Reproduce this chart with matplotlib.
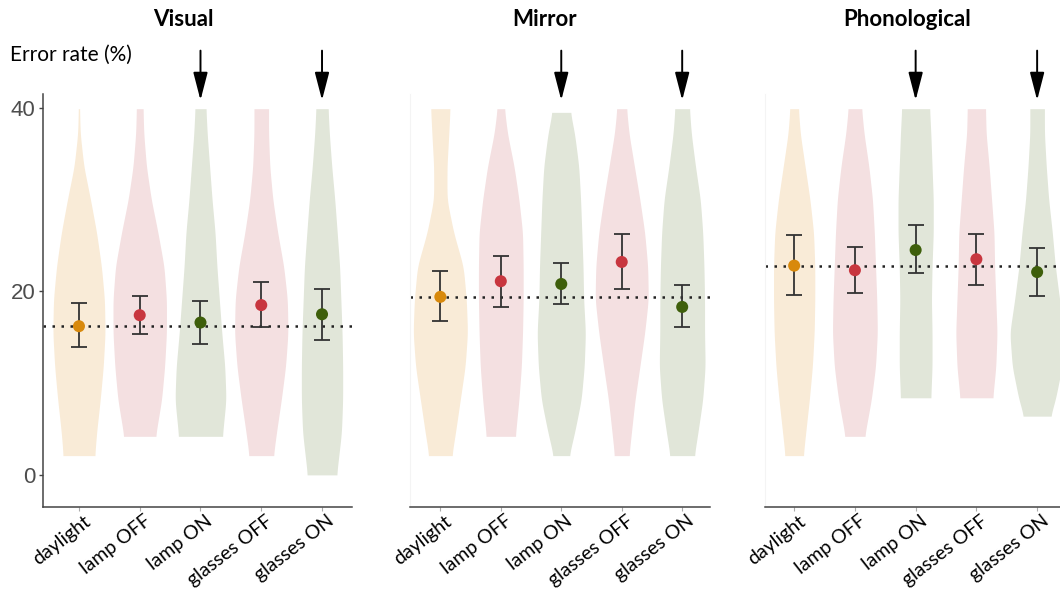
import numpy as np
import matplotlib
matplotlib.use("Agg")
import matplotlib.pyplot as plt
import matplotlib.transforms as mtransforms

# ---------------- data ----------------
conditions = ["daylight", "lamp OFF", "lamp ON", "glasses OFF", "glasses ON"]
tasks = ["Visual", "Mirror", "Phonological"]
yticks = [0, 20, 40]

# means and error-bar limits (error rate %)
visual_mean = [16.2, 17.4, 16.6, 18.5, 17.5]
visual_lo = [13.9, 15.4, 14.3, 16.1, 14.7]
visual_hi = [18.7, 19.5, 19.0, 21.0, 20.3]

mirror_mean = [19.4, 21.1, 20.8, 23.2, 18.3]
mirror_lo = [16.8, 18.3, 18.6, 20.2, 16.1]
mirror_hi = [22.2, 23.9, 23.1, 26.2, 20.7]

phono_mean = [22.8, 22.3, 24.5, 23.5, 22.1]
phono_lo = [19.6, 19.8, 22.0, 20.7, 19.5]
phono_hi = [26.1, 24.8, 27.2, 26.3, 24.7]

# violin outlines: half-widths (category units) at these levels, down to each violin's minimum
violin_levels = [39.9, 37.2, 33.6, 30.0, 26.4, 22.7, 19.1, 15.5, 11.8, 8.2, 4.6]

visual_vmin = [2.1, 4.2, 4.2, 2.1, 0.0]
visual_vmax = [39.9, 39.9, 39.9, 39.9, 39.9]
visual_width = [
    [0.01, 0.02, 0.08, 0.19, 0.29, 0.37, 0.42, 0.43, 0.40, 0.35, 0.29, 0.26],
    [0.055, 0.066, 0.11, 0.19, 0.30, 0.40, 0.44, 0.44, 0.41, 0.36, 0.26],
    [0.09, 0.11, 0.15, 0.19, 0.24, 0.27, 0.31, 0.35, 0.40, 0.42, 0.36],
    [0.12, 0.12, 0.14, 0.19, 0.27, 0.37, 0.43, 0.44, 0.40, 0.33, 0.25, 0.20],
    [0.10, 0.12, 0.16, 0.21, 0.25, 0.29, 0.31, 0.33, 0.34, 0.34, 0.32, 0.24],
]

mirror_vmin = [2.1, 4.2, 2.1, 2.1, 2.1]
mirror_vmax = [39.9, 39.9, 39.5, 39.9, 39.9]
mirror_width = [
    [0.16, 0.14, 0.11, 0.11, 0.22, 0.38, 0.43, 0.45, 0.41, 0.33, 0.25, 0.19],
    [0.06, 0.11, 0.22, 0.30, 0.36, 0.37, 0.37, 0.36, 0.34, 0.30, 0.24],
    [0.15, 0.22, 0.29, 0.32, 0.34, 0.36, 0.37, 0.40, 0.38, 0.33, 0.22, 0.13],
    [0.08, 0.12, 0.21, 0.30, 0.38, 0.43, 0.44, 0.38, 0.30, 0.22, 0.16, 0.12],
    [0.12, 0.15, 0.22, 0.30, 0.34, 0.36, 0.37, 0.37, 0.38, 0.34, 0.26, 0.20],
]

phono_vmin = [2.1, 4.2, 8.4, 8.4, 6.4]
phono_vmax = [39.9, 39.9, 39.9, 39.9, 39.9]
phono_width = [
    [0.07, 0.10, 0.18, 0.26, 0.32, 0.34, 0.34, 0.33, 0.30, 0.25, 0.19, 0.15],
    [0.11, 0.15, 0.23, 0.29, 0.32, 0.34, 0.36, 0.37, 0.34, 0.27, 0.16],
    [0.23, 0.25, 0.27, 0.29, 0.29, 0.27, 0.26, 0.27, 0.27, 0.25],
    [0.15, 0.16, 0.21, 0.25, 0.29, 0.30, 0.32, 0.34, 0.32, 0.27],
    [0.12, 0.12, 0.15, 0.19, 0.25, 0.30, 0.37, 0.45, 0.41, 0.30, 0.22],
]

arrow_targets = ["lamp ON", "glasses ON"]

# ---------------- styles ----------------
fill_colors = ["#f9ebd7", "#f4e0e1", "#e1e6d9", "#f4e0e1", "#e1e6d9"]
point_colors = ["#d8890c", "#c8363f", "#3e5f0b", "#c8363f", "#3e5f0b"]

W, H = 1060, 591
fig = plt.figure(figsize=(W / 100, H / 100), dpi=100)

# axes placement in pixels: (left, right), plus xlim
panel_px = [(42.5, 352.4, (0.4, 5.5)),
            (409.5, 710.0, (0.49, 5.46)),
            (765.0, 1067.5, (0.52, 5.5))]
ax_top_px, ax_bot_px = 94.0, 507.0
ylim = (-3.5, 41.5)

title_x_px = [183, 545, 907]

panels = [
    (visual_mean, visual_lo, visual_hi, visual_vmin, visual_vmax, visual_width),
    (mirror_mean, mirror_lo, mirror_hi, mirror_vmin, mirror_vmax, mirror_width),
    (phono_mean, phono_lo, phono_hi, phono_vmin, phono_vmax, phono_width),
]

label_font = ["Lato", "DejaVu Sans"]


def smooth_outline(ys, ws):
    ys = np.asarray(ys, float)[::-1]
    ws = np.asarray(ws, float)[::-1]
    grid = np.linspace(ys[0], ys[-1], 300)
    wv = np.interp(grid, ys, ws)
    k = 15
    pad = np.concatenate([np.full(k, wv[0]), wv, np.full(k, wv[-1])])
    kern = np.hanning(2 * k + 1)
    kern /= kern.sum()
    sm = np.convolve(pad, kern, mode="same")[k:-k]
    return grid, sm


label_shift = mtransforms.ScaledTranslation(4 / 100, 3 / 100, fig.dpi_scale_trans)

for p, (mean, lo, hi, vmin, vmax, widths) in enumerate(panels):
    left, right, xl = panel_px[p]
    ax = fig.add_axes([left / W, (H - ax_bot_px) / H,
                       (right - left) / W, (ax_bot_px - ax_top_px) / H])
    ax.set_xlim(*xl)
    ax.set_ylim(*ylim)
    xs = np.arange(1, len(conditions) + 1)

    for i in range(len(conditions)):
        lev = [l for l in violin_levels if l > vmin[i] + 0.5]
        lev[0] = vmax[i]
        ys = lev + [vmin[i]]
        ws = widths[i]
        gy, gw = smooth_outline(ys, ws)
        ax.fill_betweenx(gy, xs[i] - gw, xs[i] + gw, color=fill_colors[i],
                         linewidth=0, zorder=1)

    ax.axhline(mean[0], color="#222222", linestyle=(0, (1, 2.6)), lw=1.8, zorder=2)

    m = np.array(mean)
    ax.errorbar(xs, m, yerr=[m - np.array(lo), np.array(hi) - m], fmt="none",
                ecolor="#333333", elinewidth=1.3, capsize=6, capthick=1.3, zorder=3)
    ax.scatter(xs, m, s=75, c=point_colors, zorder=4, linewidths=0)

    # spines
    for s in ["top", "right"]:
        ax.spines[s].set_visible(False)
    ax.spines["bottom"].set_color("#444444")
    ax.spines["bottom"].set_linewidth(1.1)
    if p == 0:
        ax.spines["left"].set_color("#444444")
        ax.spines["left"].set_linewidth(1.1)
        ax.set_yticks(yticks)
        ax.set_yticklabels([str(t) for t in yticks], fontsize=16,
                           color="#4d4d4d", family=["Liberation Sans", "DejaVu Sans"])
        ax.tick_params(axis="y", length=3, width=1, color="#444444", pad=2)
    else:
        ax.spines["left"].set_color("#f4f4f4")
        ax.set_yticks([])

    ax.set_xticks(xs)
    ax.set_xticklabels(conditions, rotation=38, ha="right", va="top",
                       rotation_mode="anchor", fontsize=14, family=label_font,
                       color="black")
    ax.tick_params(axis="x", length=3, width=0.8, color="#aaaaaa", pad=3)
    for lab in ax.get_xticklabels():
        lab.set_transform(lab.get_transform() + label_shift)

    # arrows above lamp ON and glasses ON
    for name in arrow_targets:
        xi = conditions.index(name) + 1
        ax.annotate("", xy=(xi, 0.985), xytext=(xi, 1.105),
                    xycoords=("data", "axes fraction"),
                    textcoords=("data", "axes fraction"),
                    arrowprops=dict(arrowstyle="-|>,head_length=0.85,head_width=0.22",
                                    color="black", lw=1.4, mutation_scale=20,
                                    shrinkA=0, shrinkB=0),
                    annotation_clip=False)

    fig.text(title_x_px[p] / W, 1 - 20 / H, tasks[p], ha="center", va="center",
             fontsize=16, fontweight="bold", family=label_font)

fig.text(10 / W, 1 - 55 / H, "Error rate (%)", ha="left", va="center",
         fontsize=15, family=label_font)

fig.savefig("out.png", dpi=100)
